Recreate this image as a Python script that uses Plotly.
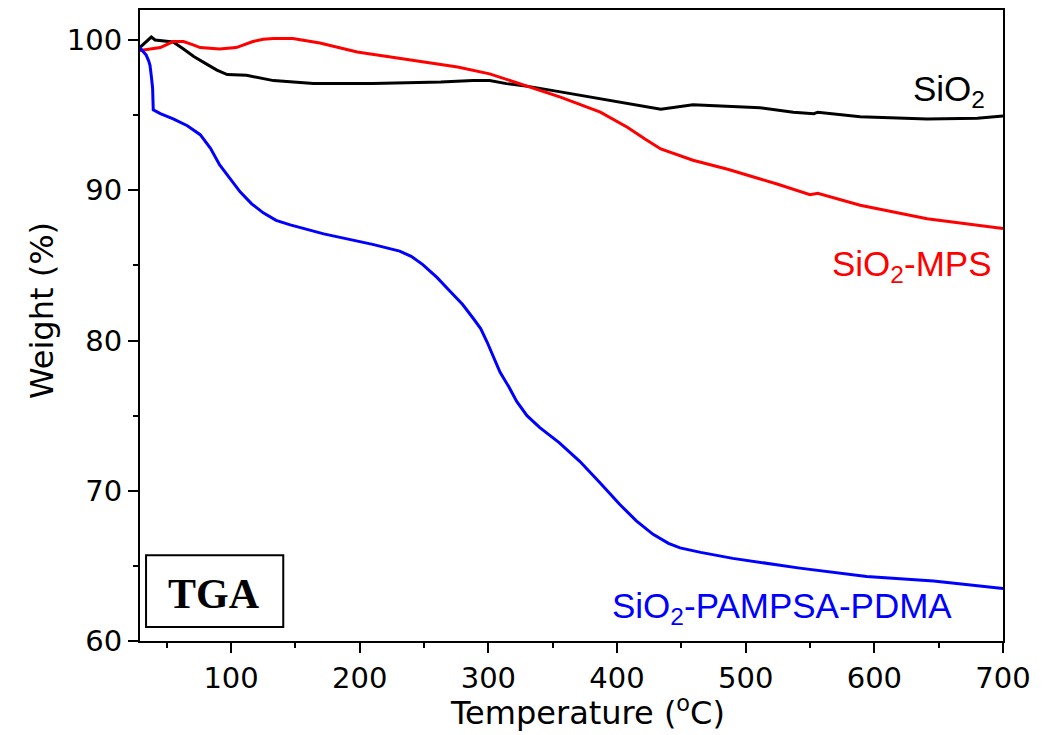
import plotly.graph_objects as go

# SiO2
t_sio2 = [29, 35, 38, 41, 55, 63, 71, 81, 89, 97, 112, 133, 164, 210, 263, 288, 301, 314, 332, 356, 382, 408, 434, 459, 486, 511, 537, 553, 556, 589, 641, 680, 700]
w_sio2 = [99.5, 100.0, 100.2, 100.0, 99.87, 99.4, 98.9, 98.4, 98.0, 97.7, 97.65, 97.3, 97.1, 97.1, 97.2, 97.3, 97.3, 97.1, 96.9, 96.55, 96.15, 95.8, 95.4, 95.7, 95.6, 95.5, 95.2, 95.1, 95.2, 94.9, 94.75, 94.8, 94.95]

# SiO2-MPS
t_mps = [29, 39, 45, 55, 63, 70, 76, 91, 104, 117, 125, 133, 148, 169, 198, 237, 276, 301, 327, 356, 387, 408, 422, 434, 459, 486, 525, 550, 556, 589, 641, 700]
w_mps = [99.3, 99.4, 99.5, 99.9, 99.9, 99.7, 99.5, 99.4, 99.5, 99.9, 100.05, 100.1, 100.1, 99.8, 99.2, 98.7, 98.2, 97.75, 97.0, 96.2, 95.2, 94.2, 93.4, 92.75, 92.0, 91.4, 90.4, 89.7, 89.8, 89.0, 88.1, 87.45]

# SiO2-PAMPSA-PDMA
t_pdma = [29, 32, 34, 36, 37, 38, 39, 39.5, 45, 55, 66, 76, 84, 91, 101, 107, 116, 125, 135, 146, 172, 210, 231, 240, 249, 260, 270, 280, 288, 294, 299, 304, 309, 316, 322, 330, 340, 355, 371, 386, 402, 415, 428, 440, 449, 465, 490, 542, 594, 646, 700]
w_pdma = [99.5, 99.2, 99.0, 98.6, 98.3, 97.6, 96.8, 95.35, 95.1, 94.75, 94.3, 93.7, 92.8, 91.7, 90.6, 89.9, 89.1, 88.5, 88.0, 87.7, 87.1, 86.4, 85.95, 85.6, 85.05, 84.2, 83.3, 82.4, 81.5, 80.8, 79.9, 78.9, 77.9, 76.9, 75.95, 75.0, 74.2, 73.2, 71.96, 70.6, 69.1, 68.0, 67.1, 66.5, 66.2, 65.9, 65.5, 64.85, 64.3, 64.0, 63.5]

x_ticks = [100, 200, 300, 400, 500, 600, 700]
y_ticks = [60, 70, 80, 90, 100]

fig = go.Figure()
fig.add_trace(go.Scatter(x=t_sio2, y=w_sio2, mode="lines", line=dict(color="black", width=3), name="SiO2"))
fig.add_trace(go.Scatter(x=t_mps, y=w_mps, mode="lines", line=dict(color="#ff0000", width=3), name="SiO2-MPS"))
fig.add_trace(go.Scatter(x=t_pdma, y=w_pdma, mode="lines", line=dict(color="#0000ff", width=3), name="SiO2-PAMPSA-PDMA"))

font_axis = "DejaVu Sans, Arial, sans-serif"
font_ann = "Liberation Sans, Arial, sans-serif"

fig.update_layout(
    width=1054, height=735,
    margin=dict(l=140, r=51, t=8, b=94),
    paper_bgcolor="white", plot_bgcolor="white",
    showlegend=False,
    font=dict(family=font_axis, size=30, color="black"),
)
fig.update_xaxes(
    range=[29.2, 700], tickvals=x_ticks, ticks="outside", ticklen=10, tickwidth=2, tickcolor="black",
    showline=True, linewidth=2, linecolor="black", mirror=True, showgrid=False, zeroline=False,
    tickfont=dict(size=29, family=font_axis), minor=dict(dtick=50, tick0=0, ticks="outside", ticklen=5, tickwidth=2, tickcolor="black", showgrid=False),
)
fig.update_yaxes(
    range=[60, 102], tickvals=y_ticks, ticks="outside", ticklen=10, tickwidth=2, tickcolor="black",
    showline=True, linewidth=2, linecolor="black", mirror=True, showgrid=False, zeroline=False,
    tickfont=dict(size=29, family=font_axis), minor=dict(dtick=5, tick0=0, ticks="outside", ticklen=5, tickwidth=2, tickcolor="black", showgrid=False),
)

# axis titles
fig.add_annotation(x=0.518, y=-0.111, xref="paper", yref="paper", text="Temperature (<sup>o</sup>C)",
                   showarrow=False, xanchor="center", yanchor="middle",
                   font=dict(size=32, color="black", family=font_axis))
fig.add_annotation(x=-0.1136, y=0.5245, xref="paper", yref="paper", text="Weight (%)", textangle=-90,
                   showarrow=False, xanchor="center", yanchor="middle",
                   font=dict(size=32, color="black", family=font_axis))

ann = [
    dict(text="SiO<sub>2</sub>", x=0.982, y=0.872, color="black"),
    dict(text="SiO<sub>2</sub>-MPS", x=0.989, y=0.595, color="#ff0000"),
    dict(text="SiO<sub>2</sub>-PAMPSA-PDMA", x=0.943, y=0.053, color="#0000ff"),
]
for a in ann:
    fig.add_annotation(x=a["x"], y=a["y"], xref="paper", yref="paper", text=a["text"], showarrow=False,
                       xanchor="right", yanchor="middle", font=dict(size=35, color=a["color"], family=font_ann))

fig.add_shape(type="rect", xref="paper", yref="paper", x0=0.007, x1=0.166, y0=0.022, y1=0.136,
              line=dict(color="black", width=2), fillcolor="white")
fig.add_annotation(x=0.0855, y=0.074, xref="paper", yref="paper", text="<b>TGA</b>", showarrow=False,
                   xanchor="center", yanchor="middle",
                   font=dict(size=42, color="black", family="Liberation Serif, Times New Roman, serif"))

fig.write_html("out.html")
